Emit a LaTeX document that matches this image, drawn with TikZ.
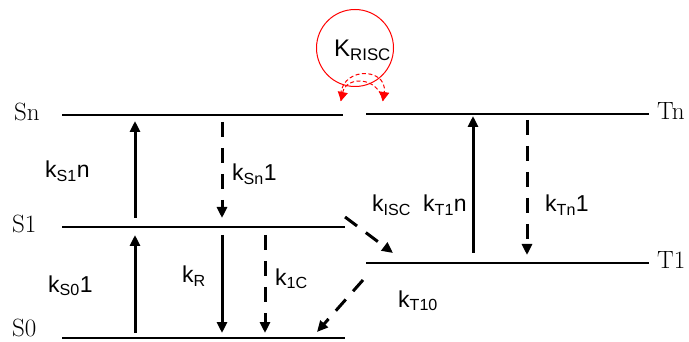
\documentclass[tikz,border=0pt]{standalone}
\usepackage{fontspec}
\newfontfamily\arialfont{Liberation Sans}
\usetikzlibrary{arrows.meta}
\usetikzlibrary{positioning}

\begin{document}
\begin{tikzpicture}[x=1pt,y=-1pt,
  level/.style={line width=1.8pt},
  rate/.style={line width=3pt,-{Triangle[length=11pt,width=10pt]}},
  ratedash/.style={rate,dash pattern=on 15pt off 11pt},
  loopdash/.style={red,line width=1pt,dash pattern=on 4pt off 2.5pt,-{Triangle[length=9pt,width=10pt]}},
  klabel/.style={font=\arialfont\fontsize{23}{26}\selectfont,anchor=base west,inner sep=0pt},
  lvlabel/.style={font=\fontsize{25}{28}\selectfont,anchor=base west,inner sep=0pt}]
\useasboundingbox (0,0) rectangle (689,342);

% energy levels
\draw[level] (62,115) -- (343,115);
\draw[level] (62,227) -- (345,227);
\draw[level] (62,338) -- (345,338);
\draw[level] (366,114) -- (649,114);
\draw[level] (366,263) -- (649,263);
\node[lvlabel] (Sn) at (14,121) {Sn};
\node[lvlabel] (S1) at (12,233) {S1};
\node[lvlabel] (S0) at (12,336) {S0};
\node[lvlabel] (Tn) at (657,120) {Tn};
\node[lvlabel] (T1) at (657,269) {T1};

% arrow ends
\coordinate (s1n-a) at (135,218); \coordinate (s1n-b) at (135,121);
\coordinate (sn1-a) at (222,122); \coordinate (sn1-b) at (222,218);
\coordinate (s01-a) at (135,333); \coordinate (s01-b) at (135,235);
\coordinate (r-a) at (222,235);   \coordinate (r-b) at (222,333);
\coordinate (ic-a) at (265,235);  \coordinate (ic-b) at (265,333);
\coordinate (isc-a) at (345,217); \coordinate (isc-b) at (393,253);
\coordinate (t10-a) at (363,280); \coordinate (t10-b) at (317,332);
\coordinate (t1n-a) at (473,253); \coordinate (t1n-b) at (473,116);
\coordinate (tn1-a) at (527,120); \coordinate (tn1-b) at (527,255);

\draw[rate] (s1n-a) -- (s1n-b);
\draw[ratedash] (sn1-a) -- (sn1-b);
\draw[rate] (s01-a) -- (s01-b);
\draw[rate] (r-a) -- (r-b);
\draw[ratedash] (ic-a) -- (ic-b);
\draw[ratedash] (isc-a) -- (isc-b);
\draw[ratedash] (t10-a) -- (t10-b);
\draw[rate] (t1n-a) -- (t1n-b);
\draw[ratedash] (tn1-a) -- (tn1-b);

\node[klabel] (kS1n) at (45,178) {k\textsubscript{S1}n};
\node[klabel] (kSn1) at (232,181) {k\textsubscript{Sn}1};
\node[klabel] (kS01) at (48,292) {k\textsubscript{S0}1};
\node[klabel] (kR) at (182,283) {k\textsubscript{R}};
\node[klabel] (k1C) at (275,285) {k\textsubscript{1C}};
\node[klabel] (kISC) at (372,212) {k\textsubscript{ISC}};
\node[klabel] (kT1n) at (423,212) {k\textsubscript{T1}n};
\node[klabel] (kTn1) at (545,212) {k\textsubscript{Tn}1};
\node[klabel] (kT10) at (398,307) {k\textsubscript{T10}};

% RISC loop
\node[draw=red,line width=1pt,circle,minimum size=77pt,inner sep=0pt] (loop) at (355,48) {};
\node[klabel,font=\arialfont\fontsize{24}{26}\selectfont] (kRISC) at (334,57) {K\textsubscript{RISC}};
\coordinate (risc-l) at (341,101);
\coordinate (risc-r) at (383,101);
\draw[loopdash] (risc-l) .. controls (336,66) and (388,66) .. (risc-r);
\draw[loopdash] (risc-r) .. controls (378,76) and (346,76) .. (risc-l);

\end{tikzpicture}
\end{document}
